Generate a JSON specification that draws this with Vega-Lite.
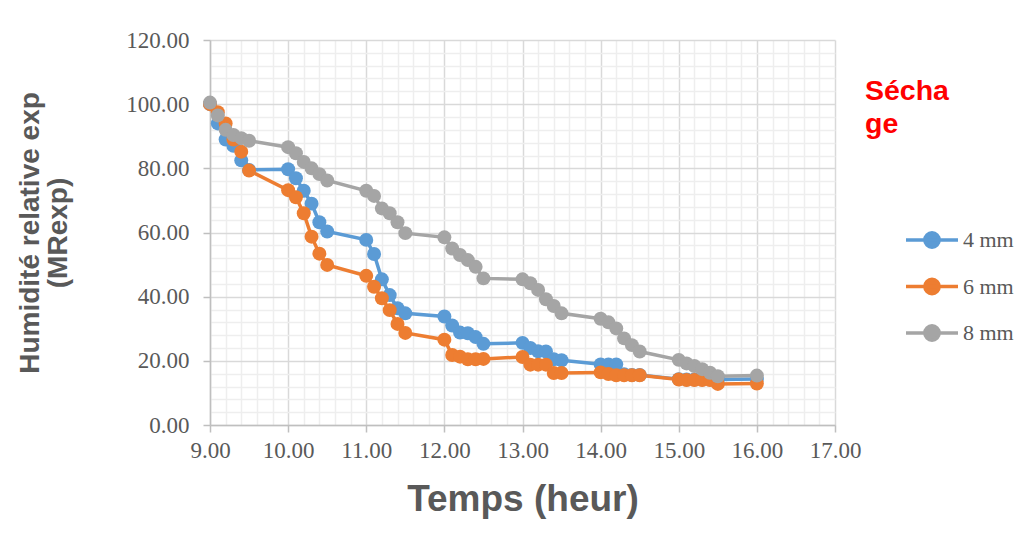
{
  "$schema": "https://vega.github.io/schema/vega-lite/v6.json",
  "autosize": "none",
  "width": 625,
  "height": 385,
  "padding": {"left": 210, "top": 40, "right": 199, "bottom": 125},
  "background": "white",
  "title": {
    "text": ["Sécha", "ge"],
    "orient": "top",
    "anchor": "end",
    "align": "left",
    "frame": "group",
    "dx": 30,
    "dy": 113,
    "font": "Liberation Sans",
    "fontSize": 28.5,
    "fontWeight": "bold",
    "lineHeight": 33,
    "color": "#ff0000"
  },
  "data": {
    "values": [
      {"t": 9.0, "v": 100, "s": "4 mm"}, {"t": 9.1, "v": 94, "s": "4 mm"}, {"t": 9.2, "v": 89, "s": "4 mm"}, {"t": 9.3, "v": 87, "s": "4 mm"}, {"t": 9.4, "v": 82.5, "s": "4 mm"}, {"t": 9.5, "v": 79.5, "s": "4 mm"},
      {"t": 10.0, "v": 79.7, "s": "4 mm"}, {"t": 10.1, "v": 76.9, "s": "4 mm"}, {"t": 10.2, "v": 73, "s": "4 mm"}, {"t": 10.3, "v": 69, "s": "4 mm"}, {"t": 10.4, "v": 63.2, "s": "4 mm"}, {"t": 10.5, "v": 60.3, "s": "4 mm"},
      {"t": 11.0, "v": 57.7, "s": "4 mm"}, {"t": 11.1, "v": 53.3, "s": "4 mm"}, {"t": 11.2, "v": 45.4, "s": "4 mm"}, {"t": 11.3, "v": 40.5, "s": "4 mm"}, {"t": 11.4, "v": 36.4, "s": "4 mm"}, {"t": 11.5, "v": 34.8, "s": "4 mm"},
      {"t": 12.0, "v": 33.8, "s": "4 mm"}, {"t": 12.1, "v": 31, "s": "4 mm"}, {"t": 12.2, "v": 28.8, "s": "4 mm"}, {"t": 12.3, "v": 28.6, "s": "4 mm"}, {"t": 12.4, "v": 27.4, "s": "4 mm"}, {"t": 12.5, "v": 25.3, "s": "4 mm"},
      {"t": 13.0, "v": 25.6, "s": "4 mm"}, {"t": 13.1, "v": 24, "s": "4 mm"}, {"t": 13.2, "v": 23, "s": "4 mm"}, {"t": 13.3, "v": 22.9, "s": "4 mm"}, {"t": 13.4, "v": 20.5, "s": "4 mm"}, {"t": 13.5, "v": 20.2, "s": "4 mm"},
      {"t": 14.0, "v": 18.9, "s": "4 mm"}, {"t": 14.1, "v": 18.9, "s": "4 mm"}, {"t": 14.2, "v": 18.9, "s": "4 mm"}, {"t": 14.3, "v": 15.8, "s": "4 mm"}, {"t": 14.4, "v": 15.6, "s": "4 mm"}, {"t": 14.5, "v": 15.6, "s": "4 mm"},
      {"t": 15.0, "v": 14.3, "s": "4 mm"}, {"t": 15.1, "v": 14.2, "s": "4 mm"}, {"t": 15.2, "v": 14.2, "s": "4 mm"}, {"t": 15.3, "v": 14.2, "s": "4 mm"}, {"t": 15.4, "v": 14.2, "s": "4 mm"}, {"t": 15.5, "v": 14.2, "s": "4 mm"}, {"t": 16.0, "v": 14.3, "s": "4 mm"},

      {"t": 9.0, "v": 100, "s": "6 mm"}, {"t": 9.1, "v": 97.5, "s": "6 mm"}, {"t": 9.2, "v": 94, "s": "6 mm"}, {"t": 9.3, "v": 89, "s": "6 mm"}, {"t": 9.4, "v": 85.2, "s": "6 mm"}, {"t": 9.5, "v": 79.3, "s": "6 mm"},
      {"t": 10.0, "v": 73.2, "s": "6 mm"}, {"t": 10.1, "v": 71, "s": "6 mm"}, {"t": 10.2, "v": 66, "s": "6 mm"}, {"t": 10.3, "v": 58.7, "s": "6 mm"}, {"t": 10.4, "v": 53.4, "s": "6 mm"}, {"t": 10.5, "v": 49.9, "s": "6 mm"},
      {"t": 11.0, "v": 46.5, "s": "6 mm"}, {"t": 11.1, "v": 43.1, "s": "6 mm"}, {"t": 11.2, "v": 39.5, "s": "6 mm"}, {"t": 11.3, "v": 35.8, "s": "6 mm"}, {"t": 11.4, "v": 31.5, "s": "6 mm"}, {"t": 11.5, "v": 28.7, "s": "6 mm"},
      {"t": 12.0, "v": 26.6, "s": "6 mm"}, {"t": 12.1, "v": 21.8, "s": "6 mm"}, {"t": 12.2, "v": 21.3, "s": "6 mm"}, {"t": 12.3, "v": 20.5, "s": "6 mm"}, {"t": 12.4, "v": 20.5, "s": "6 mm"}, {"t": 12.5, "v": 20.6, "s": "6 mm"},
      {"t": 13.0, "v": 21.2, "s": "6 mm"}, {"t": 13.1, "v": 18.8, "s": "6 mm"}, {"t": 13.2, "v": 18.8, "s": "6 mm"}, {"t": 13.3, "v": 18.8, "s": "6 mm"}, {"t": 13.4, "v": 16.2, "s": "6 mm"}, {"t": 13.5, "v": 16.2, "s": "6 mm"},
      {"t": 14.0, "v": 16.4, "s": "6 mm"}, {"t": 14.1, "v": 15.9, "s": "6 mm"}, {"t": 14.2, "v": 15.5, "s": "6 mm"}, {"t": 14.3, "v": 15.5, "s": "6 mm"}, {"t": 14.4, "v": 15.5, "s": "6 mm"}, {"t": 14.5, "v": 15.5, "s": "6 mm"},
      {"t": 15.0, "v": 14.2, "s": "6 mm"}, {"t": 15.1, "v": 14, "s": "6 mm"}, {"t": 15.2, "v": 14, "s": "6 mm"}, {"t": 15.3, "v": 14, "s": "6 mm"}, {"t": 15.4, "v": 14, "s": "6 mm"}, {"t": 15.5, "v": 12.8, "s": "6 mm"}, {"t": 16.0, "v": 12.9, "s": "6 mm"},

      {"t": 9.0, "v": 100.5, "s": "8 mm"}, {"t": 9.1, "v": 96.5, "s": "8 mm"}, {"t": 9.2, "v": 92, "s": "8 mm"}, {"t": 9.3, "v": 90.4, "s": "8 mm"}, {"t": 9.4, "v": 89.4, "s": "8 mm"}, {"t": 9.5, "v": 88.6, "s": "8 mm"},
      {"t": 10.0, "v": 86.6, "s": "8 mm"}, {"t": 10.1, "v": 84.7, "s": "8 mm"}, {"t": 10.2, "v": 82, "s": "8 mm"}, {"t": 10.3, "v": 80, "s": "8 mm"}, {"t": 10.4, "v": 78.2, "s": "8 mm"}, {"t": 10.5, "v": 76.2, "s": "8 mm"},
      {"t": 11.0, "v": 73, "s": "8 mm"}, {"t": 11.1, "v": 71.4, "s": "8 mm"}, {"t": 11.2, "v": 67.5, "s": "8 mm"}, {"t": 11.3, "v": 66, "s": "8 mm"}, {"t": 11.4, "v": 63.2, "s": "8 mm"}, {"t": 11.5, "v": 59.8, "s": "8 mm"},
      {"t": 12.0, "v": 58.5, "s": "8 mm"}, {"t": 12.1, "v": 55, "s": "8 mm"}, {"t": 12.2, "v": 53, "s": "8 mm"}, {"t": 12.3, "v": 51.4, "s": "8 mm"}, {"t": 12.4, "v": 49.3, "s": "8 mm"}, {"t": 12.5, "v": 45.7, "s": "8 mm"},
      {"t": 13.0, "v": 45.4, "s": "8 mm"}, {"t": 13.1, "v": 44.2, "s": "8 mm"}, {"t": 13.2, "v": 42.1, "s": "8 mm"}, {"t": 13.3, "v": 39.2, "s": "8 mm"}, {"t": 13.4, "v": 37.1, "s": "8 mm"}, {"t": 13.5, "v": 34.8, "s": "8 mm"},
      {"t": 14.0, "v": 33.1, "s": "8 mm"}, {"t": 14.1, "v": 32, "s": "8 mm"}, {"t": 14.2, "v": 30.1, "s": "8 mm"}, {"t": 14.3, "v": 27, "s": "8 mm"}, {"t": 14.4, "v": 24.9, "s": "8 mm"}, {"t": 14.5, "v": 22.9, "s": "8 mm"},
      {"t": 15.0, "v": 20.3, "s": "8 mm"}, {"t": 15.1, "v": 19.2, "s": "8 mm"}, {"t": 15.2, "v": 18.4, "s": "8 mm"}, {"t": 15.3, "v": 17.4, "s": "8 mm"}, {"t": 15.4, "v": 16.3, "s": "8 mm"}, {"t": 15.5, "v": 15.2, "s": "8 mm"}, {"t": 16.0, "v": 15.4, "s": "8 mm"}
    ]
  },
  "mark": {
    "type": "line",
    "strokeWidth": 3.5,
    "point": {"filled": true, "size": 195, "opacity": 1}
  },
  "encoding": {
    "x": {
      "field": "t",
      "type": "quantitative",
      "scale": {"domain": [9, 17], "nice": false, "zero": false},
      "axis": {
        "title": "Temps (heur)",
        "values": [9, 9.2, 9.4, 9.6, 9.8, 10, 10.2, 10.4, 10.6, 10.8, 11, 11.2, 11.4, 11.6, 11.8, 12, 12.2, 12.4, 12.6, 12.8, 13, 13.2, 13.4, 13.6, 13.8, 14, 14.2, 14.4, 14.6, 14.8, 15, 15.2, 15.4, 15.6, 15.8, 16, 16.2, 16.4, 16.6, 16.8, 17],
        "labelExpr": "abs(datum.value - round(datum.value)) < 0.001 ? format(datum.value, '.2f') : ''",
        "gridColor": {"condition": {"test": "abs(datum.value - round(datum.value)) < 0.001", "value": "#d9d9d9"}, "value": "#eeeeee"},
        "gridWidth": 1.5,
        "tickOpacity": {"condition": {"test": "abs(datum.value - round(datum.value)) < 0.001", "value": 1}, "value": 0},
        "tickColor": "#bfbfbf",
        "tickSize": 7,
        "tickWidth": 1.5,
        "domainColor": "#bfbfbf",
        "domainWidth": 1.5,
        "labelFont": "Liberation Serif",
        "labelFontSize": 23,
        "labelColor": "#595959",
        "labelPadding": 7,
        "labelFlush": false,
        "labelOverlap": false,
        "titleFont": "Liberation Sans",
        "titleFontSize": 37,
        "titleFontWeight": "bold",
        "titleColor": "#595959",
        "titlePadding": 19
      }
    },
    "y": {
      "field": "v",
      "type": "quantitative",
      "scale": {"domain": [0, 120], "nice": false},
      "axis": {
        "title": ["Humidité relative exp", "(MRexp)"],
        "values": [0, 4, 8, 12, 16, 20, 24, 28, 32, 36, 40, 44, 48, 52, 56, 60, 64, 68, 72, 76, 80, 84, 88, 92, 96, 100, 104, 108, 112, 116, 120],
        "labelExpr": "datum.value % 20 == 0 ? format(datum.value, '.2f') : ''",
        "gridColor": {"condition": {"test": "datum.value % 20 == 0", "value": "#d9d9d9"}, "value": "#eeeeee"},
        "gridWidth": 1.5,
        "tickOpacity": {"condition": {"test": "datum.value % 20 == 0", "value": 1}, "value": 0},
        "tickColor": "#bfbfbf",
        "tickSize": 7,
        "tickWidth": 1.5,
        "domainColor": "#bfbfbf",
        "domainWidth": 1.5,
        "labelFont": "Liberation Serif",
        "labelFontSize": 23,
        "labelColor": "#595959",
        "labelPadding": 14,
        "labelOverlap": false,
        "titleFont": "Liberation Sans",
        "titleFontSize": 28,
        "titleFontWeight": "bold",
        "titleColor": "#595959",
        "titleLineHeight": 28,
        "titlePadding": 53
      }
    },
    "color": {
      "field": "s",
      "type": "nominal",
      "scale": {"domain": ["4 mm", "6 mm", "8 mm"], "range": ["#5b9bd5", "#ed7d31", "#a5a5a5"]},
      "legend": {
        "title": null,
        "orient": "none",
        "legendX": 707,
        "legendY": 185,
        "padding": 0,
        "symbolType": "M-2,0L2,0M-0.55,0A0.55,0.55,0,1,1,0.55,0A0.55,0.55,0,1,1,-0.55,0",
        "symbolSize": 676,
        "symbolStrokeWidth": 3,
        "rowPadding": 16.5,
        "labelOffset": 16,
        "labelFont": "Liberation Serif",
        "labelFontSize": 22,
        "labelColor": "#595959",
        "encode": {
          "symbols": {
            "update": {
              "fill": {"scale": "color", "field": "value"},
              "stroke": {"scale": "color", "field": "value"},
              "strokeWidth": {"value": 3.5},
              "opacity": {"value": 1}
            }
          }
        }
      }
    }
  },
  "config": {
    "view": {"stroke": null}
  }
}
